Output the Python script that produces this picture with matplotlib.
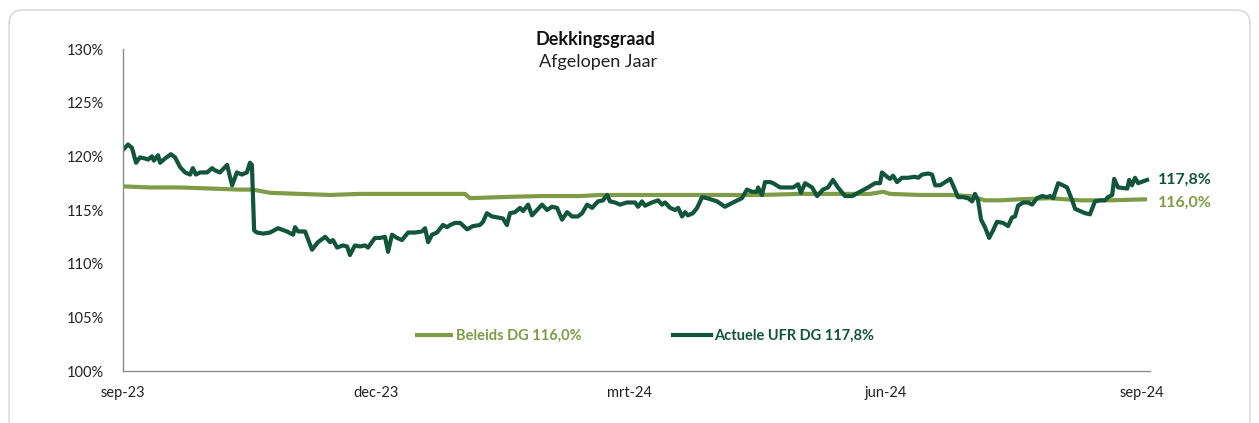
import numpy as np
import pandas as pd
import matplotlib
matplotlib.use("Agg")
import matplotlib.pyplot as plt
import matplotlib.patches as mpatches
from matplotlib.transforms import IdentityTransform

# Actuele UFR DG: days since 1 sep 2023 and value (%)
ufr_days = [0, 1.8, 3.2, 4.7, 6.1, 7.9, 9.0, 10.4, 11.1, 12.6, 13.3, 15.1, 17.2, 18.7,
            20.5, 22.3, 24.1, 25.1, 26.2, 27.7, 30.2, 32.0, 33.0, 34.8, 37.4, 38.4,
            39.2, 40.9, 42.7, 44.5, 45.6, 46.3, 47.1, 48.1, 50.3, 52.8, 55.7, 58.9,
            61.1, 61.8, 62.9, 65.4, 67.9, 70.0, 72.6, 74.4, 75.4, 76.9, 79.0, 80.5,
            81.5, 83.3, 85.1, 86.9, 88.0, 90.5, 92.3, 94.1, 95.2, 96.6, 98.4, 100.2,
            102.4, 104.9, 107.4, 108.5, 109.6, 111.0, 112.8, 114.9, 116.4, 117.5,
            119.3, 121.1, 123.6, 125.7, 128.2, 129.3, 130.7, 132.5, 134.7, 136.5,
            137.9, 139.0, 140.8, 142.6, 143.7, 145.5, 146.9, 148.7, 150.5, 152.3,
            154.1, 155.9, 157.7, 159.5, 161.3, 163.4, 164.9, 166.7, 168.5, 170.6,
            172.4, 173.9, 174.9, 176.7, 178.5, 181.0, 183.9, 185.0, 186.4, 187.5,
            190.0, 192.2, 193.6, 194.7, 196.5, 198.3, 199.4, 200.8, 201.9, 202.9,
            204.7, 206.2, 208.0, 209.8, 213.4, 216.2, 219.1, 222.3, 224.1, 225.9,
            227.7, 228.1, 229.5, 230.6, 232.4, 233.5, 236.0, 238.5, 240.7, 242.5,
            243.5, 245.0, 247.5, 249.3, 251.4, 253.2, 255.0, 256.8, 259.3, 261.9,
            264.7, 267.6, 270.1, 271.9, 272.6, 274.4, 275.5, 276.6, 278.0, 279.8,
            282.0, 284.5, 285.6, 287.0, 289.2, 290.6, 291.7, 293.5, 295.3, 297.1,
            298.8, 299.9, 301.7, 303.5, 305.0, 306.0, 307.1, 308.2, 309.6, 311.1,
            312.5, 313.9, 316.1, 317.9, 319.3, 320.4, 321.5, 323.3, 325.1, 326.5,
            328.3, 330.1, 331.9, 333.0, 334.1, 335.9, 337.6, 339.1, 340.9, 342.0,
            343.8, 345.6, 347.3, 349.1, 350.9, 352.7, 353.8, 355.3, 356.0, 357.4,
            360.7, 361.4, 362.4, 363.5, 364.6, 367.8]
ufr_vals = [120.6, 121.1, 120.8, 119.4, 119.9, 119.8, 119.7, 120.0, 119.6, 120.1, 119.4,
            119.8, 120.2, 119.9, 119.0, 118.5, 118.3, 118.9, 118.3, 118.5, 118.5, 118.9,
            118.7, 118.5, 119.2, 118.1, 117.3, 118.5, 118.3, 118.5, 119.4, 119.2, 113.1,
            112.9, 112.8, 112.9, 113.3, 113.0, 112.7, 113.4, 113.0, 113.0, 111.3, 112.0,
            112.5, 112.0, 112.2, 111.5, 111.7, 111.6, 110.8, 111.7, 111.6, 111.7, 111.5,
            112.4, 112.4, 112.5, 111.1, 112.7, 112.4, 112.2, 112.9, 112.9, 113.0, 113.3,
            112.0, 112.7, 112.9, 113.6, 113.4, 113.6, 113.8, 113.8, 113.2, 113.5, 113.6,
            113.9, 114.7, 114.4, 114.3, 114.2, 113.6, 114.7, 114.8, 115.2, 114.9, 115.5,
            114.5, 115.0, 115.5, 115.0, 115.3, 115.2, 114.1, 114.8, 114.4, 114.4, 114.7,
            115.5, 115.2, 115.8, 115.9, 116.4, 115.8, 115.7, 115.5, 115.7, 115.7, 115.3,
            115.8, 115.4, 115.7, 115.9, 115.5, 115.7, 115.2, 115.0, 115.2, 114.4, 114.8,
            114.5, 114.7, 115.2, 116.2, 116.1, 115.8, 115.3, 115.7, 116.1, 116.9, 116.7,
            116.7, 117.1, 116.4, 117.6, 117.6, 117.5, 117.1, 117.1, 117.1, 117.4, 116.6,
            117.5, 117.1, 116.3, 116.9, 117.1, 117.8, 117.1, 116.3, 116.3, 116.7, 117.1,
            117.5, 117.5, 118.5, 118.1, 117.9, 118.2, 117.6, 118.0, 118.0, 118.1, 118.0,
            118.3, 118.4, 118.3, 117.3, 117.3, 117.6, 117.9, 116.9, 116.2, 116.2, 116.1,
            115.8, 116.5, 115.9, 114.1, 113.4, 112.4, 113.1, 113.9, 113.8, 113.5, 114.3,
            114.4, 115.4, 115.7, 115.7, 115.5, 116.1, 116.3, 116.2, 116.3, 116.1, 117.5,
            117.3, 117.1, 115.9, 115.1, 114.9, 114.7, 114.6, 115.8, 115.9, 115.9, 116.2,
            116.4, 117.9, 117.1, 117.0, 117.8, 117.3, 118.0, 117.5, 117.8]

# Beleids DG
bel_days = [0, 9.7, 20.5, 31.3, 42.0, 46.7, 52.8, 63.6, 74.4, 85.1, 99.5, 113.9, 122.8,
            124.6, 135.4, 149.8, 164.2, 171.3, 185.7, 200.1, 214.4, 228.8, 243.2, 257.5,
            268.3, 273.0, 275.5, 286.3, 297.1, 304.2, 309.6, 315.0, 322.2, 333.0, 338.4,
            343.8, 354.5, 367.8]
bel_vals = [117.2, 117.1, 117.1, 117.0, 116.9, 116.9, 116.6, 116.5, 116.4, 116.5, 116.5,
            116.5, 116.5, 116.1, 116.2, 116.3, 116.3, 116.4, 116.4, 116.4, 116.4, 116.4,
            116.5, 116.5, 116.5, 116.7, 116.5, 116.4, 116.4, 116.3, 115.9, 115.9, 116.0,
            116.1, 116.0, 115.9, 115.9, 116.0]

tick_dates = ['2023-09-01', '2023-12-01', '2024-03-01', '2024-06-01', '2024-09-01']
tick_labels = ['sep-23', 'dec-23', 'mrt-24', 'jun-24', 'sep-24']
y_ticks = [100, 105, 110, 115, 120, 125, 130]

dark = '#11553b'
light = '#7e9c47'
start = pd.Timestamp('2023-09-01')
ufr_x = start + pd.to_timedelta(ufr_days, unit='D')
bel_x = start + pd.to_timedelta(bel_days, unit='D')

plt.rcParams['font.family'] = ['Lato', 'DejaVu Sans']

W, H = 1259, 423
fig = plt.figure(figsize=(W / 100, H / 100), dpi=100)

# card border behind everything
card = mpatches.FancyBboxPatch((9, -30), 1241, 443, boxstyle='round,pad=0,rounding_size=14',
                               transform=IdentityTransform(), facecolor='white',
                               edgecolor='#d4d4d4', linewidth=1, zorder=-10)
fig.add_artist(card)

left, right, bottom, top = 123, 1150, 371, 49
ax = fig.add_axes([left / W, 1 - bottom / H, (right - left) / W, (bottom - top) / H])
ax.patch.set_alpha(0)

ax.plot(bel_x, bel_vals, color=light, lw=3, label='Beleids DG 116,0%', solid_capstyle='butt')
ax.plot(ufr_x, ufr_vals, color=dark, lw=3, label='Actuele UFR DG 117,8%', solid_joinstyle='round')

ax.set_ylim(100, 130)
xmax = start + pd.Timedelta(days=366 * (right - left) / (1142 - left))
ax.set_xlim(start, xmax)
ax.set_yticks(y_ticks)
ax.set_yticklabels([f'{v}%' for v in y_ticks])
ax.set_xticks(pd.to_datetime(tick_dates))
ax.set_xticklabels(tick_labels)
ax.tick_params(length=0, labelsize=10.5, colors='#222222')
ax.tick_params(axis='y', pad=14)
ax.tick_params(axis='x', pad=11)
for s in ['top', 'right']:
    ax.spines[s].set_visible(False)
for s in ['left', 'bottom']:
    ax.spines[s].set_color('#8c8c8c')
    ax.spines[s].set_linewidth(1)

leg = ax.legend(loc='center', bbox_to_anchor=(0.508, 0.109), ncol=2, frameon=False,
                labelcolor='linecolor', prop={'weight': 'bold', 'size': 10.5},
                handlelength=2.6, handletextpad=0.2, columnspacing=6.3)

# end labels
ax.text(1.008, (ufr_vals[-1] - 100) / 30, '117,8%', transform=ax.transAxes, color=dark,
        fontsize=11.5, fontweight='bold', va='center', ha='left')
ax.text(1.008, (bel_vals[-1] - 100) / 30 - 0.012, '116,0%', transform=ax.transAxes, color=light,
        fontsize=11.5, fontweight='bold', va='center', ha='left')

fig.text(595 / W, 1 - 40 / H, 'Dekkingsgraad', ha='center', va='center', fontsize=13,
         fontweight='bold', color='#111111')
fig.text(598 / W, 1 - 62 / H, 'Afgelopen Jaar', ha='center', va='center', fontsize=13,
         color='#222222')

fig.savefig('out.png', dpi=100)
